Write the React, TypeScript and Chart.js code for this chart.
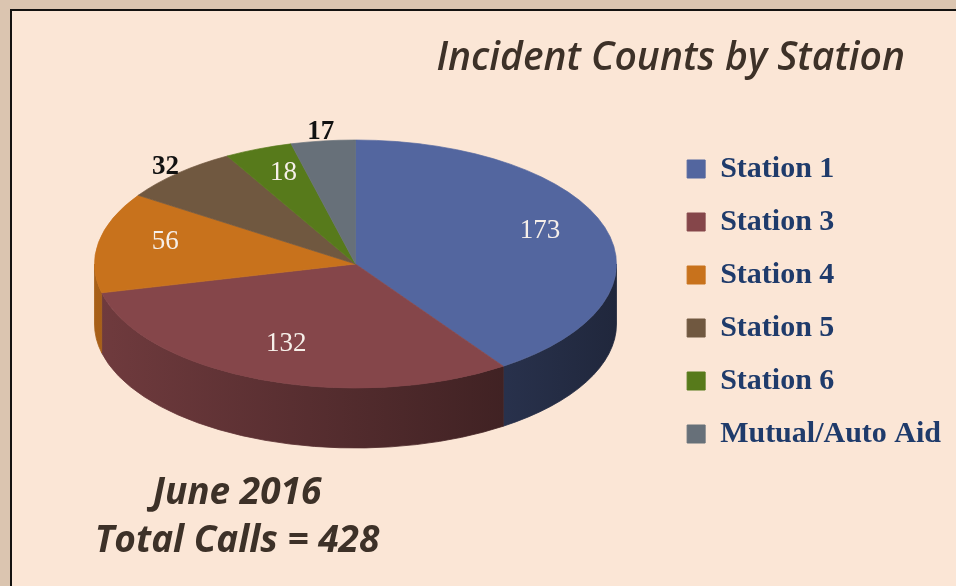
import React, { useEffect, useRef } from 'react';
import { Chart, registerables } from 'chart.js';

Chart.register(...registerables);

// ---- data ----
const categories = ['Station 1', 'Station 3', 'Station 4', 'Station 5', 'Station 6', 'Mutual/Auto Aid'];
const incidentCounts = [173, 132, 56, 32, 18, 17];
const sliceColors = ['#53669f', '#85464a', '#c8721c', '#705840', '#577a1b', '#677079'];
const titleText = 'Incident Counts by Station';
const captionLines = ['June 2016', 'Total Calls = 428'];

// ---- style / layout ----
const labelOutside = [false, false, false, true, false, true];
const PIE = { cx: 355.5, cy: 264, rx: 261, ry: 124, depth: 60 };
const TEXT_DARK = '#3d3128';

function shade(hex: string, f: number): string {
  const n = parseInt(hex.slice(1), 16);
  const r = Math.round(((n >> 16) & 255) * f);
  const g = Math.round(((n >> 8) & 255) * f);
  const b = Math.round((n & 255) * f);
  return `rgb(${r},${g},${b})`;
}

const framePlugin = {
  id: 'frame',
  beforeDraw(chart: any) {
    const { ctx, width, height } = chart;
    ctx.save();
    ctx.fillStyle = '#dbc5b0';
    ctx.fillRect(0, 0, width, height);
    ctx.fillStyle = '#141210';
    ctx.fillRect(10, 9, width - 10, height - 9);
    ctx.fillStyle = '#fbe6d6';
    ctx.fillRect(12, 11, width - 12, height - 11);
    ctx.restore();
  },
  afterDraw(chart: any) {
    const { ctx } = chart;
    ctx.save();
    ctx.fillStyle = TEXT_DARK;
    ctx.textBaseline = 'alphabetic';
    ctx.textAlign = 'right';
    ctx.font = 'italic 600 39px "Open Sans", sans-serif';
    ctx.fillText(titleText, 905, 70, 470);
    ctx.textAlign = 'center';
    ctx.font = 'italic 700 37px "Open Sans", sans-serif';
    ctx.fillText(captionLines[0], 237, 504, 180);
    ctx.fillText(captionLines[1], 237, 552, 288);
    ctx.restore();
  },
};

const pie3dPlugin = {
  id: 'pie3d',
  beforeDatasetsDraw(chart: any) {
    const meta = chart.getDatasetMeta(0);
    const arcs = meta.data;
    if (!arcs.length) return;
    const ctx = chart.ctx;
    const { cx, cy, rx, ry, depth } = PIE;
    // side walls (front half only)
    ctx.save();
    arcs.forEach((arc: any, i: number) => {
      const { startAngle, endAngle } = arc.getProps(['startAngle', 'endAngle'], true);
      const s = Math.max(startAngle, 0);
      const e = Math.min(endAngle, Math.PI);
      if (e <= s) return;
      const col = sliceColors[i];
      const grad = ctx.createLinearGradient(cx - rx, 0, cx + rx, 0);
      grad.addColorStop(0, shade(col, 0.84));
      grad.addColorStop(1, shade(col, 0.38));
      ctx.beginPath();
      ctx.ellipse(cx, cy, rx, ry, 0, s, e, false);
      ctx.ellipse(cx, cy + depth, rx, ry, 0, e, s, true);
      ctx.closePath();
      ctx.fillStyle = grad;
      ctx.fill();
      ctx.strokeStyle = grad;
      ctx.lineWidth = 0.8;
      ctx.stroke();
    });
    ctx.restore();
    // map the library's circular pie onto the top ellipse
    const { x, y, outerRadius } = arcs[0].getProps(['x', 'y', 'outerRadius'], true);
    ctx.save();
    ctx.translate(cx, cy);
    ctx.scale(rx / outerRadius, ry / outerRadius);
    ctx.translate(-x, -y);
  },
  afterDatasetsDraw(chart: any) {
    const meta = chart.getDatasetMeta(0);
    const arcs = meta.data;
    if (!arcs.length) return;
    const ctx = chart.ctx;
    ctx.restore();
    const { cx, cy, rx, ry } = PIE;
    const values = chart.data.datasets[0].data as number[];
    ctx.save();
    ctx.textAlign = 'center';
    ctx.textBaseline = 'middle';
    arcs.forEach((arc: any, i: number) => {
      const { startAngle, endAngle } = arc.getProps(['startAngle', 'endAngle'], true);
      const mid = (startAngle + endAngle) / 2;
      const out = labelOutside[i];
      const f = out ? 1.07 : 0.74;
      const px = cx + rx * f * Math.cos(mid);
      const py = cy + ry * f * Math.sin(mid) - (out ? 0 : 6);
      ctx.font = out ? 'bold 27px "Liberation Serif", serif' : '27px "Liberation Serif", serif';
      ctx.fillStyle = out ? '#111111' : '#f6efe9';
      ctx.fillText(String(values[i]), px, py);
    });
    ctx.restore();
  },
};

export default function App() {
  const canvasRef = useRef<HTMLCanvasElement | null>(null);

  useEffect(() => {
    document.body.style.margin = '0';
    const canvas = canvasRef.current;
    if (!canvas) return;
    const chart = new Chart(canvas, {
      type: 'pie',
      data: {
        labels: categories,
        datasets: [
          {
            data: incidentCounts,
            backgroundColor: sliceColors,
            borderColor: sliceColors,
            borderWidth: 1,
            clip: false,
          } as any,
        ],
      },
      options: {
        animation: false,
        responsive: true,
        maintainAspectRatio: false,
        events: [],
        layout: { padding: { top: 17, right: 5, bottom: 0, left: 0 } },
        plugins: {
          legend: {
            position: 'right',
            align: 'center',
            labels: {
              boxWidth: 18,
              boxHeight: 18,
              padding: 23,
              color: '#1f3b6b',
              font: { family: '"Liberation Serif", serif', size: 30, weight: 'bold' },
            },
          },
          title: { display: false },
          tooltip: { enabled: false },
        },
      },
      plugins: [framePlugin, pie3dPlugin],
    });
    return () => chart.destroy();
  }, []);

  return (
    <div style={{ position: 'absolute', left: 0, top: 0, width: 956, height: 586 }}>
      <canvas ref={canvasRef} />
    </div>
  );
}
